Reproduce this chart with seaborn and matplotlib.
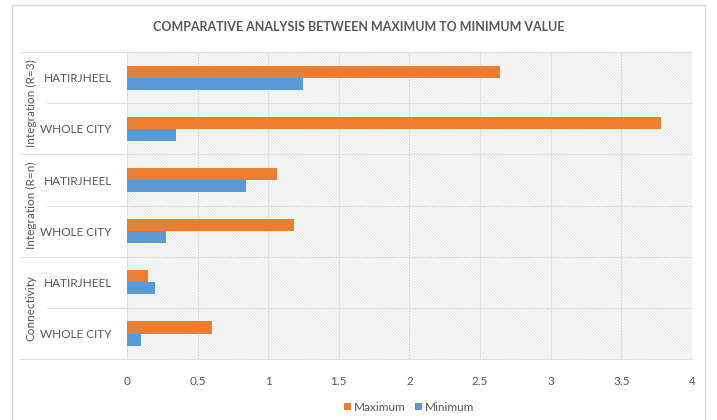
import pandas as pd
import matplotlib
matplotlib.use("Agg")
import matplotlib.pyplot as plt
import matplotlib.patches as mpatches
import matplotlib.transforms as mtransforms
import seaborn as sns

# data
groups = ["Integration (R=3)", "Integration (R=n)", "Connectivity"]
places = ["HATIRJHEEL", "WHOLE CITY"]
maximum = [2.64, 3.78, 1.06, 1.18, 0.15, 0.60]
minimum = [1.25, 0.35, 0.84, 0.28, 0.20, 0.10]
xticks = [0, 0.5, 1, 1.5, 2, 2.5, 3, 3.5, 4]

rows = [f"{g}|{p}" for g in groups for p in places]
df = pd.DataFrame({
    "row": rows * 2,
    "value": maximum + minimum,
    "series": ["Maximum"] * 6 + ["Minimum"] * 6,
})

sns.set_theme(style="white")
plt.rcParams["font.family"] = ["Lato", "DejaVu Sans"]
plt.rcParams["hatch.linewidth"] = 0.5
txt = "#595959"
fs = 8.5

fig = plt.figure(figsize=(7.17, 4.2), dpi=100)
ax = fig.add_axes([0.177, 0.145, 0.788, 0.731])

# hatched background like the Excel pattern fill
ax.add_patch(mpatches.Rectangle((0, 0), 1, 1, transform=ax.transAxes,
                                facecolor="white", edgecolor="#dcdcdc",
                                hatch="\\" * 12, linewidth=0, zorder=0))

sns.barplot(data=df, y="row", x="value", hue="series", order=rows,
            palette={"Maximum": "#ED7D31", "Minimum": "#5B9BD5"},
            width=0.47, saturation=1, linewidth=0, ax=ax, zorder=3, legend=True)

ax.set_xlim(0, 4)
ax.set_xticks(xticks)
ax.set_xticklabels([f"{t:g}" for t in xticks], color=txt, fontsize=fs)
ax.tick_params(axis="x", length=0, pad=12)
ax.set_yticks(range(6))
ax.set_yticklabels([r.split("|")[1] for r in rows], color=txt, fontsize=fs)
ax.tick_params(axis="y", length=0, pad=11)
ax.set_xlabel("")
ax.set_ylabel("")
for s in ax.spines.values():
    s.set_visible(False)

# vertical gridlines
for t in xticks:
    ax.axvline(t, color="#e0e0e0", lw=0.8, zorder=1)

# row separators, extending into the label area
trans = mtransforms.blended_transform_factory(fig.transFigure, ax.transData)
for i in range(7):
    y = i - 0.5
    x0 = 20 / 717 if i % 2 == 0 else 47 / 717
    ax.plot([x0, 0.965], [y, y], transform=trans, color="#e0e0e0",
            lw=0.8, clip_on=False, zorder=1)

# group labels, rotated
for k, g in enumerate(groups):
    ax.text(31 / 717, 2 * k + 0.5, g, transform=trans, rotation=90,
            ha="center", va="center", color=txt, fontsize=fs)

ax.set_ylim(5.5, -0.5)

leg = ax.legend(loc="upper center", bbox_to_anchor=(0.5, -0.105), ncol=2,
                frameon=False, handlelength=0.55, handleheight=0.55,
                handletextpad=0.3, columnspacing=0.8, fontsize=fs)
for t in leg.get_texts():
    t.set_color(txt)

fig.text(0.5, 0.935, "COMPARATIVE ANALYSIS BETWEEN MAXIMUM TO MINIMUM VALUE",
         ha="center", va="center", color=txt, fontsize=9, fontweight="bold")

# outer chart border
fig.add_artist(mpatches.Rectangle((12 / 717, -0.01), 693 / 717, 1.0 - 5 / 420 + 0.01,
                                  transform=fig.transFigure, fill=False,
                                  edgecolor="#d9d9d9", lw=1))

fig.savefig("out.png", dpi=100)
